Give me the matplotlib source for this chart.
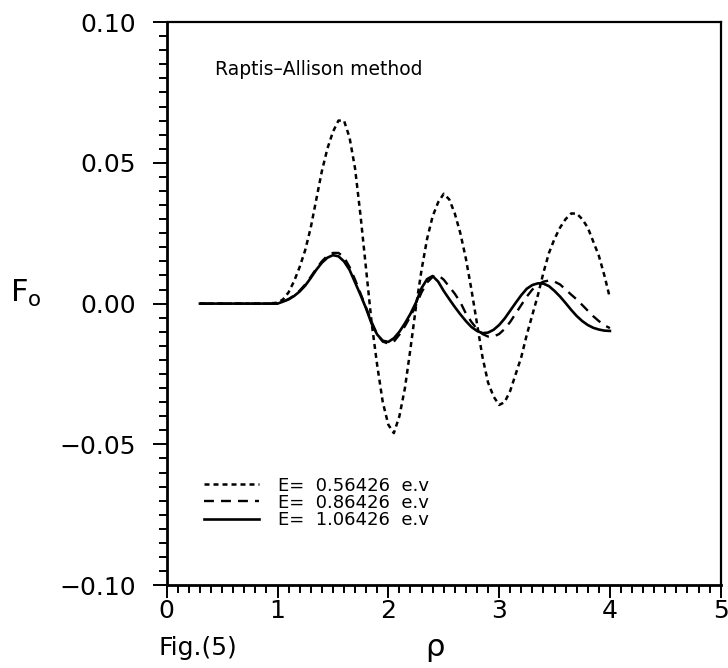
import matplotlib
matplotlib.use("Agg")
import matplotlib.pyplot as plt
from matplotlib.ticker import MultipleLocator
import numpy as np

# rho values (shared by all three curves)
rho = [0.30, 0.50, 0.70, 0.90, 1.00, 1.05, 1.10, 1.15, 1.20, 1.25, 1.30, 1.35,
       1.40, 1.45, 1.50, 1.55, 1.60, 1.65, 1.70, 1.75, 1.80, 1.85, 1.90, 1.95,
       2.00, 2.05, 2.10, 2.15, 2.20, 2.25, 2.30, 2.35, 2.40, 2.45, 2.50, 2.55,
       2.60, 2.65, 2.70, 2.75, 2.80, 2.85, 2.90, 2.95, 3.00, 3.05, 3.10, 3.15,
       3.20, 3.25, 3.30, 3.35, 3.40, 3.45, 3.50, 3.55, 3.60, 3.65, 3.70, 3.75,
       3.80, 3.85, 3.90, 3.95, 4.00]

# E = 0.56426 e.v
f_056 = [0, 0, 0, 0, 0.0003, 0.0015, 0.004, 0.008, 0.013, 0.019, 0.027, 0.037,
         0.047, 0.055, 0.061, 0.065, 0.065, 0.059, 0.048, 0.031, 0.012, -0.007,
         -0.022, -0.035, -0.043, -0.046, -0.040, -0.030, -0.016, -0.001, 0.012,
         0.023, 0.031, 0.036, 0.039, 0.037, 0.032, 0.025, 0.016, 0.005, -0.007,
         -0.019, -0.028, -0.033, -0.036, -0.035, -0.031, -0.025, -0.019, -0.011,
         -0.004, 0.003, 0.011, 0.018, 0.023, 0.027, 0.030, 0.032, 0.032, 0.030,
         0.027, 0.022, 0.017, 0.010, 0.002]

# E = 0.86426 e.v
f_086 = [0, 0, 0, 0, 0.0, 0.0007, 0.0016, 0.0029, 0.0046, 0.0068, 0.0095, 0.0124,
         0.015, 0.017, 0.018, 0.018, 0.0165, 0.013, 0.0085, 0.0035, -0.0015,
         -0.0065, -0.011, -0.0135, -0.0142, -0.0135, -0.011, -0.008, -0.0045,
         -0.0005, 0.004, 0.0075, 0.0095, 0.0101, 0.0085, 0.006, 0.0035, 0.0005,
         -0.0035, -0.0065, -0.009, -0.0108, -0.0117, -0.0117, -0.0108, -0.009,
         -0.0065, -0.0035, -0.0005, 0.0025, 0.005, 0.0068, 0.0078, 0.0082,
         0.0078, 0.0068, 0.005, 0.0032, 0.0015, -0.0005, -0.0025, -0.0045,
         -0.0062, -0.0077, -0.0087]

# E = 1.06426 e.v
f_106 = [0, 0, 0, 0, 0.0, 0.0007, 0.0015, 0.0027, 0.0043, 0.0064, 0.0091, 0.0120,
         0.0145, 0.0163, 0.0172, 0.0168, 0.015, 0.012, 0.0075, 0.003, -0.0018,
         -0.0072, -0.0110, -0.0132, -0.0136, -0.0123, -0.0100, -0.0070, -0.0036,
         0.0004, 0.0055, 0.0087, 0.0098, 0.0078, 0.0045, 0.0016, -0.0012, -0.0038,
         -0.0062, -0.0083, -0.0097, -0.0105, -0.0103, -0.0093, -0.0076, -0.0053,
         -0.0025, 0.0003, 0.0030, 0.0053, 0.0066, 0.0072, 0.0071, 0.0062, 0.0045,
         0.0025, 0.0002, -0.0022, -0.0044, -0.0062, -0.0076, -0.0086, -0.0092,
         -0.0096, -0.0097]

labels = ["E=  0.56426  e.v", "E=  0.86426  e.v", "E=  1.06426  e.v"]
xticks = [0, 1, 2, 3, 4, 5]
yticks = [-0.10, -0.05, 0.00, 0.05, 0.10]

plt.rcParams['font.family'] = ['DejaVu Sans']

fig = plt.figure(figsize=(7.28, 6.68), dpi=100)
ax = fig.add_axes([0.229, 0.124, 0.761, 0.843])

ax.plot(rho, f_056, color='k', lw=1.8, dashes=(2.0, 1.6), label=labels[0])
ax.plot(rho, f_086, color='k', lw=1.7, dashes=(4.2, 3.0), label=labels[1])
ax.plot(rho, f_106, color='k', lw=1.9, label=labels[2])

ax.set_xlim(0, 5)
ax.set_ylim(-0.10, 0.10)
ax.set_xticks(xticks)
ax.set_xticklabels([str(t) for t in xticks])
ax.set_yticks(yticks)
ax.set_yticklabels(["\u22120.10", "\u22120.05", "0.00", "0.05", "0.10"])
ax.xaxis.set_minor_locator(MultipleLocator(0.1))
ax.yaxis.set_minor_locator(MultipleLocator(0.005))

ax.tick_params(which='both', direction='out', top=False, right=False,
               width=1.4, labelsize=18)
ax.tick_params(axis='x', which='major', length=9, pad=1)
ax.tick_params(axis='x', which='minor', length=6)
ax.tick_params(axis='y', which='major', length=10, pad=12)
ax.tick_params(axis='y', which='minor', length=6)

for side in ['left', 'bottom']:
    ax.spines[side].set_linewidth(2.0)
for side in ['top', 'right']:
    ax.spines[side].set_linewidth(1.6)

ax.set_ylabel(r"F$_\mathrm{o}$", rotation=0, fontsize=22)
ax.yaxis.set_label_coords(-0.255, 0.49)
ax.set_xlabel("\u03c1", fontsize=22)
ax.xaxis.set_label_coords(0.485, -0.085)

ax.text(0.087, 0.915, "Raptis\u2013Allison method", transform=ax.transAxes,
        fontsize=13.5, va='center', ha='left')

fig.text(0.218, 0.03, "Fig.(5)", fontsize=18, ha='left', va='center')

leg = ax.legend(loc='lower left', bbox_to_anchor=(0.068, 0.1), frameon=False,
                fontsize=13, handlelength=3.0, handletextpad=1.1,
                labelspacing=-0.05, borderpad=0.0, borderaxespad=0.0)

fig.savefig("out.png", dpi=100)
plt.close(fig)
